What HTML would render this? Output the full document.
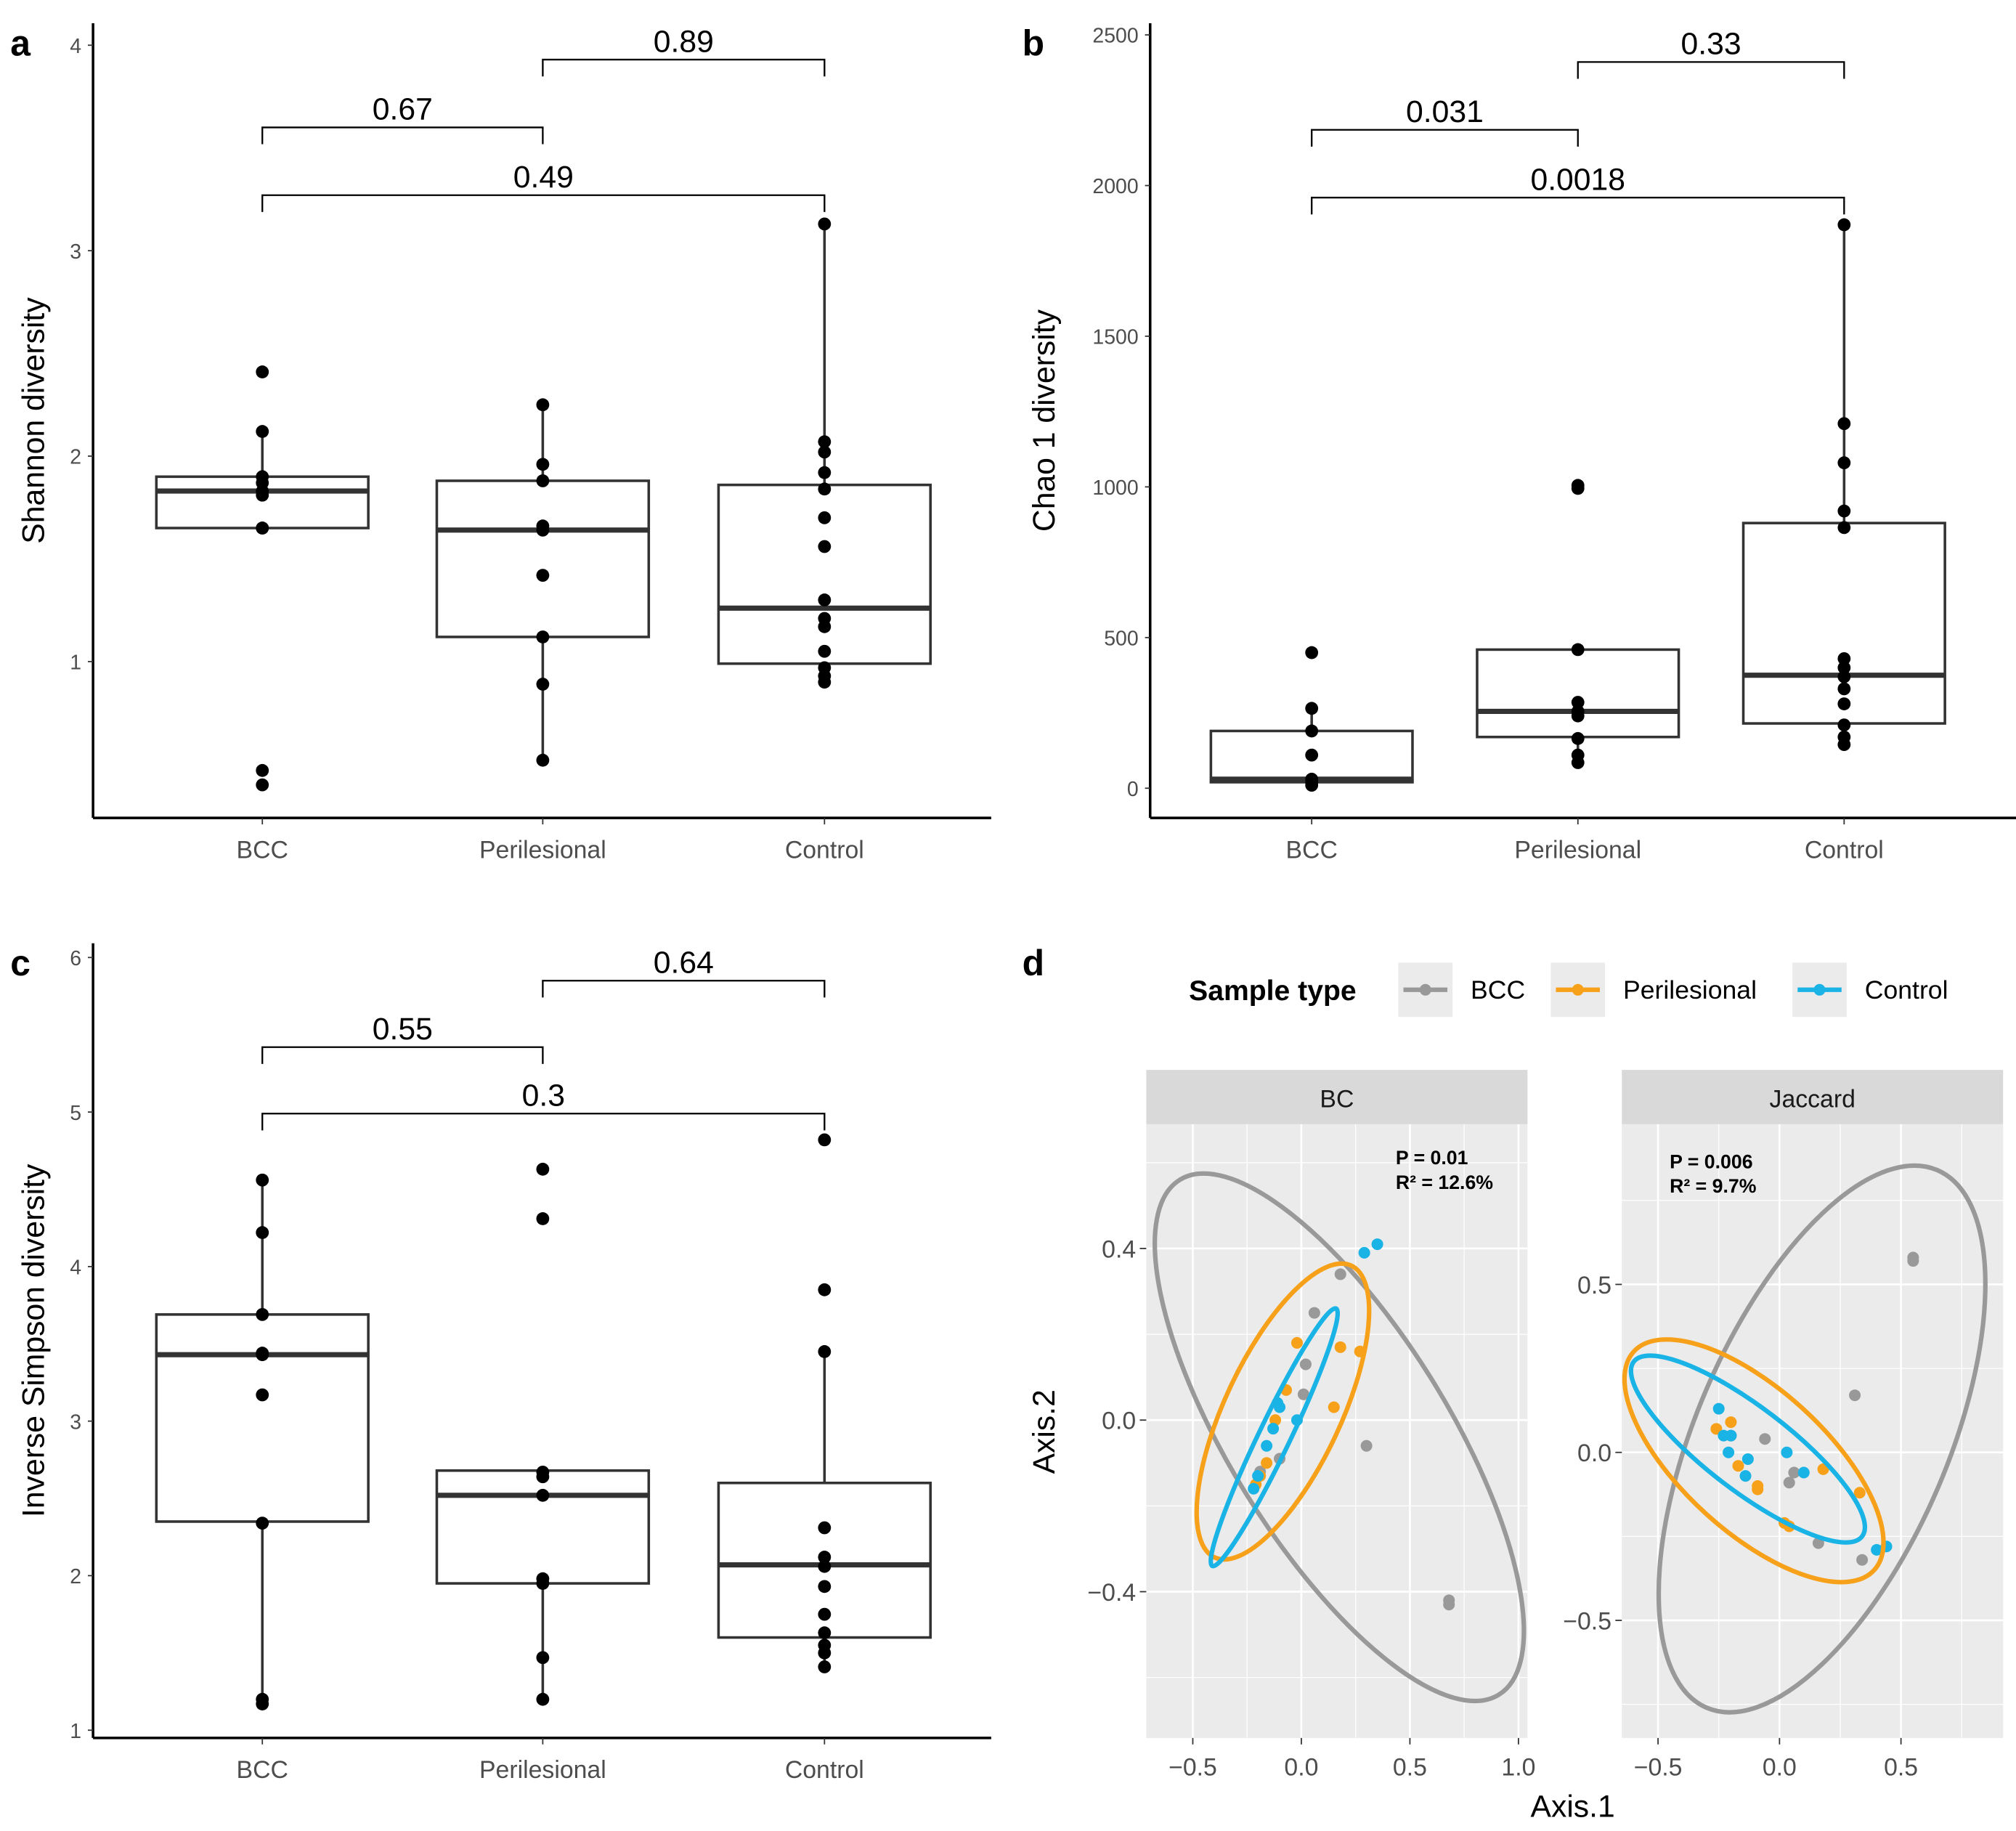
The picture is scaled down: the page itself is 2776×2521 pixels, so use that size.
<!DOCTYPE html>
<html><head><meta charset="utf-8"><style>
html,body{margin:0;padding:0;background:#fff}
svg{display:block;font-family:"Liberation Sans",Arial,sans-serif}
</style></head><body>
<svg id="fig" width="2776" height="2521" viewBox="0 0 1560 1417" preserveAspectRatio="none" xmlns="http://www.w3.org/2000/svg"></svg>
<script>
// ---------- Data ----------
const categories = ["BCC","Perilesional","Control"];
// Panel a: Shannon
const shannonTicks = [1,2,3,4];
const shannonBox = [[1.65,1.65,1.83,1.90,2.12],[0.52,1.12,1.64,1.88,2.25],[0.90,0.99,1.26,1.86,3.13]]; // [lowW,q1,med,q3,highW]
const shannonPts = [[2.41,2.12,1.90,1.87,1.83,1.81,1.65,1.65,0.47,0.40],[2.25,1.96,1.88,1.66,1.64,1.42,1.12,0.89,0.52],[3.13,2.07,2.02,1.92,1.84,1.70,1.56,1.30,1.21,1.17,1.05,0.97,0.93,0.90]];
const shannonPvals = ["0.67","0.89","0.49"];
const shannonBracketY = [3.60,3.93,3.27];
// Panel b: Chao1
const chaoTicks = [0,500,1000,1500,2000,2500];
const chaoBox = [[10,20,30,190,270],[85,170,255,460,460],[145,215,375,880,1870]];
const chaoPts = [[450,265,190,110,30,20,10],[1005,995,460,285,255,240,165,110,85],[1870,1210,1080,920,865,430,400,370,330,280,210,170,145]];
const chaoPvals = ["0.031","0.33","0.0018"];
const chaoBracketY = [2185,2410,1960];
// Panel c: Inverse Simpson
const simpTicks = [1,2,3,4,5,6];
const simpBox = [[1.17,2.35,3.43,3.69,4.56],[1.20,1.95,2.52,2.68,2.68],[1.41,1.60,2.07,2.60,3.45]];
const simpPts = [[4.56,4.22,3.69,3.44,3.43,3.17,2.34,1.20,1.17],[4.63,4.31,2.67,2.64,2.52,1.98,1.95,1.47,1.20],[4.82,3.85,3.45,2.31,2.12,2.06,1.93,1.75,1.63,1.55,1.50,1.41]];
const simpPvals = ["0.55","0.64","0.3"];
const simpBracketY = [5.42,5.85,4.99];
// Panel d: ordination
const groups = ["BCC","Perilesional","Control"];
const bcTicksX = [-0.5,0,0.5,1.0], bcTicksY = [0.4,0,-0.4];
const jacTicksX = [-0.5,0,0.5], jacTicksY = [0.5,0,-0.5];
const bcGrayX = [0.18,0.06,0.02,0.01,0.30,0.68,0.68,-0.10,-0.19];
const bcGrayY = [0.34,0.25,0.13,0.06,-0.06,-0.42,-0.43,-0.09,-0.12];
const bcOrangeX = [-0.02,0.27,0.15,-0.07,-0.12,-0.16,-0.19,-0.21,0.18];
const bcOrangeY = [0.18,0.16,0.03,0.07,0.0,-0.10,-0.13,-0.15,0.17];
const bcBlueX = [0.35,0.29,-0.02,-0.11,-0.13,-0.16,-0.20,-0.22,-0.10];
const bcBlueY = [0.41,0.39,0.0,0.04,-0.02,-0.06,-0.13,-0.16,0.03];
const jacGrayX = [0.55,0.55,0.31,-0.06,0.06,0.04,0.16,0.34,-0.20];
const jacGrayY = [0.58,0.57,0.17,0.04,-0.06,-0.09,-0.27,-0.32,0.05];
const jacOrangeX = [-0.26,-0.20,-0.17,-0.09,0.04,0.18,0.33,-0.09,0.02];
const jacOrangeY = [0.07,0.09,-0.04,-0.11,-0.22,-0.05,-0.12,-0.10,-0.21];
const jacBlueX = [-0.25,-0.23,-0.20,-0.21,-0.13,-0.14,0.03,0.10,0.44,0.40];
const jacBlueY = [0.13,0.05,0.05,0.0,-0.02,-0.07,0.0,-0.06,-0.28,-0.29];
// ellipses: major axis endpoints (data) + minor/major ratio
const bcEllStart = [[-0.56,0.56],[0.23,0.36],[0.16,0.26]];
const bcEllEnd = [[0.91,-0.64],[-0.40,-0.32],[-0.41,-0.34]];
const bcEllRatio = [0.36,0.36,0.11];
const jacEllStart = [[0.65,0.84],[-0.60,0.30],[-0.60,0.27]];
const jacEllEnd = [[-0.30,-0.76],[0.39,-0.35],[0.34,-0.25]];
const jacEllRatio = [0.43,0.44,0.29];

const NS="http://www.w3.org/2000/svg";
const svg=document.getElementById('fig');
function el(tag,attrs,parent,text){const e=document.createElementNS(NS,tag);for(const k in attrs)e.setAttribute(k,attrs[k]);if(text!==undefined)e.textContent=text;(parent||svg).appendChild(e);return e;}

function boxPanel(o){
  const g=el('g',{});
  
  
  const ys=v=>o.y0+(v-o.v0)*(o.y1-o.y0)/(o.v1-o.v0);
  const xs=i=>o.cx[i];
  let a=el('line',{x1:o.ax,y1:o.top,x2:o.ax,y2:o.bottom,stroke:'#000','stroke-width':2},g);
  
  a=el('line',{x1:o.ax,y1:o.bottom,x2:o.right,y2:o.bottom,stroke:'#000','stroke-width':2},g);
  
  o.ticks.forEach(t=>{
    el('line',{x1:o.ax-4,x2:o.ax,y1:ys(t),y2:ys(t),stroke:'#333','stroke-width':1},g);
    const tx=el('text',{x:o.ax-9,y:ys(t)+6,'text-anchor':'end','font-size':16,fill:'#4d4d4d'},g,String(t));
    
  });
  categories.forEach((c,i)=>{
    el('line',{x1:xs(i),x2:xs(i),y1:o.bottom,y2:o.bottom+5,stroke:'#333','stroke-width':1},g);
    const tx=el('text',{x:xs(i),y:o.bottom+31,'text-anchor':'middle','font-size':19,fill:'#4d4d4d'},g,c);
    
    const b=o.box[i];
    const w=o.hw;
    const wl=el('line',{x1:xs(i),x2:xs(i),y1:ys(b[0]),y2:ys(b[4]),stroke:'#333','stroke-width':2},g);
    
    const r=el('rect',{x:xs(i)-w,y:ys(b[3]),width:2*w,height:ys(b[1])-ys(b[3]),fill:'#fff',stroke:'#333','stroke-width':2},g);
    
    const m=el('line',{x1:xs(i)-w,x2:xs(i)+w,y1:ys(b[2]),y2:ys(b[2]),stroke:'#333','stroke-width':4},g);
    
    o.pts[i].forEach(v=>{
      const p=el('circle',{cx:xs(i),cy:ys(v),r:5,fill:'#000'},g);
      
    });
  });
  const pairs=[[0,1],[1,2],[0,2]];
  pairs.forEach((pr,k)=>{
    const y=ys(o.by[k]);
    const br=el('path',{d:`M${xs(pr[0])},${y+13}V${y}H${xs(pr[1])}V${y+13}`,fill:'none',stroke:'#000','stroke-width':1.3},g);
    
    const t=el('text',{x:(xs(pr[0])+xs(pr[1]))/2,y:y-6,'text-anchor':'middle','font-size':24,fill:'#000'},g,o.pv[k]);
    
  });
  const yl=el('text',{x:0,y:0,transform:`translate(${o.ylx},${(o.top+o.bottom)/2}) rotate(-90)`,'text-anchor':'middle','font-size':24,fill:'#000'},g,o.ylabel);
  
  const lt=el('text',{x:o.lx,y:o.ly,'font-size':28,'font-weight':'bold',fill:'#000'},g,o.letter);
  
}

boxPanel({name:'panel-a-shannon',ax:72,top:18,bottom:633,right:767,y0:512,v0:1,y1:35,v1:4,cx:[203,420,638],hw:82,ticks:shannonTicks,box:shannonBox,pts:shannonPts,by:shannonBracketY,pv:shannonPvals,ylabel:'Shannon diversity',ylx:34,letter:'a',lx:8,ly:43});
boxPanel({name:'panel-b-chao1',ax:890,top:18,bottom:633,right:1560,y0:610,v0:0,y1:27,v1:2500,cx:[1015,1221,1427],hw:78,ticks:chaoTicks,box:chaoBox,pts:chaoPts,by:chaoBracketY,pv:chaoPvals,ylabel:'Chao 1 diversity',ylx:816,letter:'b',lx:791,ly:43});
boxPanel({name:'panel-c-inverse-simpson',ax:72,top:730,bottom:1345,right:767,y0:1339,v0:1,y1:741,v1:6,cx:[203,420,638],hw:82,ticks:simpTicks,box:simpBox,pts:simpPts,by:simpBracketY,pv:simpPvals,ylabel:'Inverse Simpson diversity',ylx:34,letter:'c',lx:8,ly:755});

// ---------- Panel d ----------
const colors=['#999999','#F7A11A','#1AB3E6'];
function facet(o){
  const g=el('g',{});
  
  
  const xs=v=>o.x0+(v-o.xv0)*o.kx;
  const ys=v=>o.y0-(v-o.yv0)*o.ky;
  const r=el('rect',{x:o.L,y:870,width:o.R-o.L,height:475,fill:'#ebebeb'},g);
  
  const s=el('rect',{x:o.L,y:828,width:o.R-o.L,height:42,fill:'#d9d9d9'},g);
  
  const st=el('text',{x:(o.L+o.R)/2,y:857,'text-anchor':'middle','font-size':19,fill:'#1a1a1a'},g,o.title);
  
  const cp='clip-'+o.name;
  const cl=el('clipPath',{id:cp},g);el('rect',{x:o.L,y:870,width:o.R-o.L,height:475},cl);
  const inner=el('g',{'clip-path':`url(#${cp})`},g);
  const dx=o.tx[1]-o.tx[0], dy=o.ty[0]-o.ty[1];
  for(let v=o.tx[0]-dx/2;v<=o.tx[o.tx.length-1]+dx;v+=dx) el('line',{x1:xs(v),x2:xs(v),y1:870,y2:1345,stroke:'#fff','stroke-width':0.7},inner);
  for(let v=o.ty[0]+dy/2;v>=o.ty[o.ty.length-1]-dy;v-=dy) el('line',{y1:ys(v),y2:ys(v),x1:o.L,x2:o.R,stroke:'#fff','stroke-width':0.7},inner);
  o.tx.forEach(v=>{el('line',{x1:xs(v),x2:xs(v),y1:870,y2:1345,stroke:'#fff','stroke-width':1.5},inner);
    el('line',{x1:xs(v),x2:xs(v),y1:1345,y2:1350,stroke:'#333'},g);
    const t=el('text',{x:xs(v),y:1374,'text-anchor':'middle','font-size':19,fill:'#4d4d4d'},g,(v<0?'\u2212':'')+Math.abs(v).toFixed(1));
    });
  o.ty.forEach(v=>{el('line',{y1:ys(v),y2:ys(v),x1:o.L,x2:o.R,stroke:'#fff','stroke-width':1.5},inner);
    el('line',{y1:ys(v),y2:ys(v),x1:o.L-5,x2:o.L,stroke:'#333'},g);
    const t=el('text',{x:o.L-8,y:ys(v)+7,'text-anchor':'end','font-size':19,fill:'#4d4d4d'},g,(v<0?'\u2212':'')+Math.abs(v).toFixed(1));
    });
  o.ptsX.forEach((xa,gi)=>{xa.forEach((x,j)=>{
    const p=el('circle',{cx:xs(x),cy:ys(o.ptsY[gi][j]),r:4.5,fill:colors[gi]},inner);
    
  });});
  o.es.forEach((st,gi)=>{
    const x1=xs(st[0]),y1=ys(st[1]),x2=xs(o.ee[gi][0]),y2=ys(o.ee[gi][1]);
    const a=Math.hypot(x2-x1,y2-y1)/2, ang=Math.atan2(y2-y1,x2-x1)*180/Math.PI;
    const e=el('ellipse',{cx:(x1+x2)/2,cy:(y1+y2)/2,rx:a,ry:a*o.er[gi],transform:`rotate(${ang} ${(x1+x2)/2} ${(y1+y2)/2})`,fill:'none',stroke:colors[gi],'stroke-width':3.5},inner);
    
  });
  const t1=el('text',{x:o.px,y:o.py,'font-size':15,'font-weight':'bold',fill:'#000'},g,o.p1);
  
  const t2=el('text',{x:o.px,y:o.py+19,'font-size':15,'font-weight':'bold',fill:'#000'},g,o.p2);
  
}
facet({name:'facet-bc',title:'BC',L:887,R:1182,x0:1007,xv0:0,kx:168,y0:1099,yv0:0,ky:332,tx:bcTicksX,ty:bcTicksY,
  ptsX:[bcGrayX,bcOrangeX,bcBlueX],ptsY:[bcGrayY,bcOrangeY,bcBlueY],es:bcEllStart,ee:bcEllEnd,er:bcEllRatio,px:1080,py:901,p1:'P = 0.01',p2:'R\u00B2 = 12.6%'});
facet({name:'facet-jaccard',title:'Jaccard',L:1255,R:1550,x0:1377,xv0:0,kx:188,y0:1124,yv0:0,ky:260,tx:jacTicksX,ty:jacTicksY,
  ptsX:[jacGrayX,jacOrangeX,jacBlueX],ptsY:[jacGrayY,jacOrangeY,jacBlueY],es:jacEllStart,ee:jacEllEnd,er:jacEllRatio,px:1292,py:904,p1:'P = 0.006',p2:'R\u00B2 = 9.7%'});

let t;
t=el('text',{x:791,y:755,'font-size':28,'font-weight':'bold'},svg,'d');
t=el('text',{x:0,y:0,transform:'translate(816,1108) rotate(-90)','text-anchor':'middle','font-size':24},svg,'Axis.2');
t=el('text',{x:1217,y:1406,'text-anchor':'middle','font-size':24},svg,'Axis.1');
t=el('text',{x:920,y:774,'font-size':22,'font-weight':'bold'},svg,'Sample type');
const legX=[1082,1200,1387];
groups.forEach((gname,i)=>{
  const lg=el('g',{});
  
  
  el('rect',{x:legX[i],y:745,width:42,height:42,fill:'#ebebeb'},lg);
  el('line',{x1:legX[i]+4,x2:legX[i]+38,y1:766,y2:766,stroke:colors[i],'stroke-width':3.5},lg);
  el('circle',{cx:legX[i]+21,cy:766,r:4.5,fill:colors[i]},lg);
  el('text',{x:legX[i]+56,y:773,'font-size':20,fill:'#000'},lg,gname);
});
</script>
</body></html>
